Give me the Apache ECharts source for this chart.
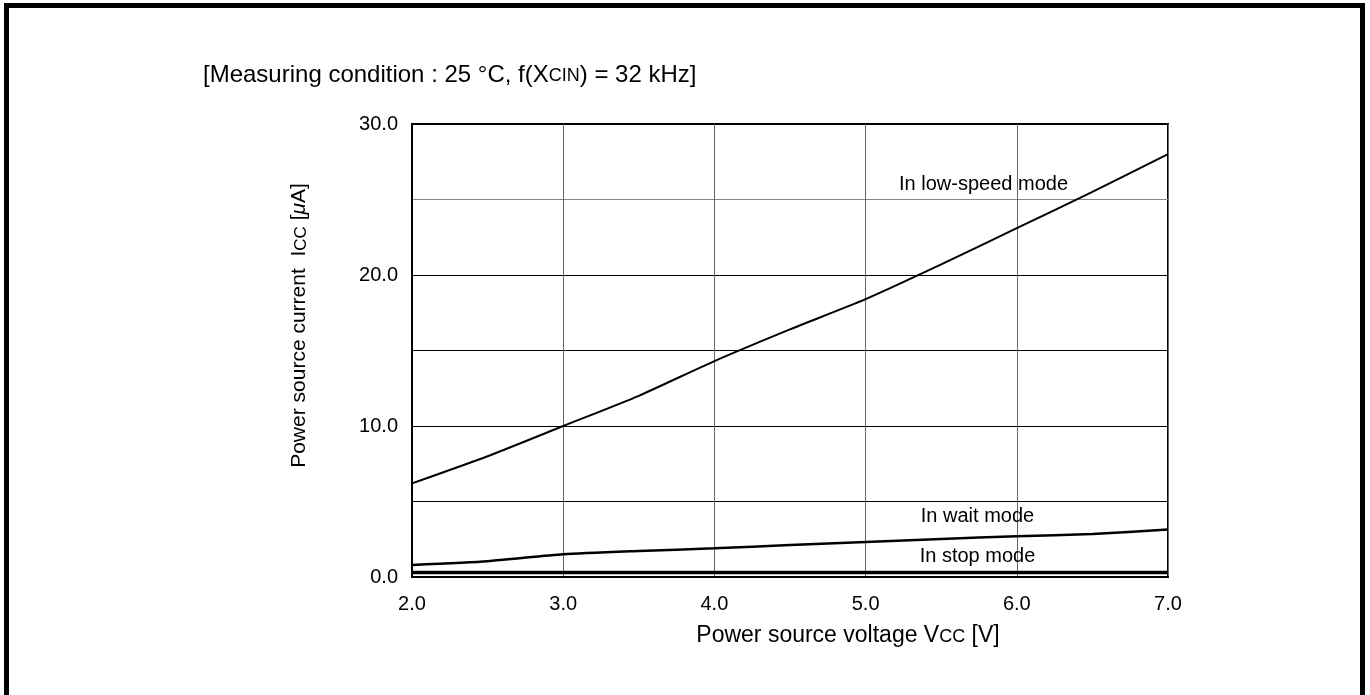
<!DOCTYPE html>
<html><head><meta charset="utf-8">
<script src="https://cdn.jsdelivr.net/npm/echarts@6/dist/echarts.min.js"></script>
<style>html,body{margin:0;padding:0;background:#fff}#c{width:1370px;height:695px}</style>
</head><body><div id="c"></div>
<script>
const voltages = [2.0, 2.5, 3.0, 3.5, 4.0, 4.5, 5.0, 5.5, 6.0, 6.5, 7.0];
const lowSpeed = [6.2, 8.0, 10.0, 12.0, 14.3, 16.4, 18.4, 20.7, 23.1, 25.5, 28.0];
const waitMode = [0.8, 1.05, 1.5, 1.72, 1.9, 2.12, 2.32, 2.52, 2.7, 2.85, 3.15];
const stopMode = [0.3, 0.3, 0.3, 0.3, 0.3, 0.3, 0.3, 0.3, 0.3, 0.3, 0.3];
const seriesNames = ['In low-speed mode', 'In wait mode', 'In stop mode'];
const labelPos = [[5.78, 26.0], [5.74, 4.0], [5.74, 1.35]];
const xTicks = [2, 3, 4, 5, 6, 7];
const yTicks = [0, 10, 20, 30];

const F = 'Arial, "Liberation Sans", Helvetica, sans-serif';
const zip = (a) => voltages.map((v, i) => [v, a[i]]);
const lbl = (name, pos) => ({
  symbol: 'circle', symbolSize: 1, silent: true,
  itemStyle: {color: 'rgba(0,0,0,0)'},
  data: [{coord: pos, value: name}],
  label: {show: true, position: 'inside', formatter: name, color: '#000', fontSize: 20, fontFamily: F}
});

const chart = echarts.init(document.getElementById('c'), null, {renderer: 'canvas'});
chart.setOption({
  animation: false,
  backgroundColor: '#fff',
  grid: {left: 412, top: 124, right: 202, bottom: 118, show: true, borderColor: '#000', borderWidth: 2, containLabel: false},
  title: {
    text: '[Measuring condition : 25 °C, f(X{s|CIN}) = 32 kHz]',
    left: 198, top: 58,
    textStyle: {fontSize: 24, fontWeight: 'normal', color: '#000', fontFamily: F,
      rich: {s: {fontSize: 18, color: '#000', fontFamily: F, padding: [3, 0, 0, 0]}}}
  },
  graphic: [
    {type: 'polyline', shape: {points: [[6.5, 695], [6.5, 5.5], [1362.5, 5.5], [1362.5, 695]]},
     style: {stroke: '#000', lineWidth: 5, fill: null}, silent: true}
  ],
  xAxis: {
    type: 'value', min: 2, max: 7, interval: 1,
    name: 'Power source voltage V{s|CC} [V]', nameLocation: 'middle', nameGap: 47,
    nameTextStyle: {fontSize: 23, color: '#000', fontFamily: F, padding: [0, 0, 0, 116],
      rich: {s: {fontSize: 18, color: '#000', fontFamily: F, padding: [3, 0, 0, 0]}}},
    axisLine: {show: true, lineStyle: {color: '#000', width: 2}},
    axisTick: {show: false},
    axisLabel: {color: '#000', fontSize: 20, fontFamily: F, margin: 17, formatter: v => xTicks.includes(v) ? v.toFixed(1) : ''},
    splitLine: {show: true, lineStyle: {color: '#666', width: 1}}
  },
  yAxis: {
    type: 'value', min: 0, max: 30, interval: 5,
    name: 'Power source current  I{s|CC} [{m|μ}A]', nameLocation: 'middle', nameGap: 102, nameRotate: 90,
    nameTextStyle: {fontSize: 21, color: '#000', fontFamily: F, padding: [0, 0, 0, 50],
      rich: {s: {fontSize: 17, color: '#000', fontFamily: F, padding: [3, 0, 0, 0]}, m: {fontSize: 21, fontStyle: 'italic', color: '#000', fontFamily: F}}},
    axisLine: {show: true, lineStyle: {color: '#000', width: 2}},
    axisTick: {show: false},
    axisLabel: {color: '#000', fontSize: 20, fontFamily: F, margin: 14, formatter: v => yTicks.includes(v) ? v.toFixed(1) : ''},
    splitLine: {show: true, lineStyle: {color: ['#000', '#000', '#000', '#000', '#000', '#888', '#000'], width: 1}}
  },
  series: [
    {name: seriesNames[0], type: 'line', data: zip(lowSpeed), symbol: 'none', smooth: 0.2,
     lineStyle: {color: '#000', width: 2}, markPoint: lbl(seriesNames[0], labelPos[0])},
    {name: seriesNames[1], type: 'line', data: zip(waitMode), symbol: 'none', smooth: 0.2,
     lineStyle: {color: '#000', width: 2.5}, markPoint: lbl(seriesNames[1], labelPos[1])},
    {name: seriesNames[2], type: 'line', data: zip(stopMode), symbol: 'none',
     lineStyle: {color: '#000', width: 3.5}, markPoint: lbl(seriesNames[2], labelPos[2])}
  ]
});
</script></body></html>
